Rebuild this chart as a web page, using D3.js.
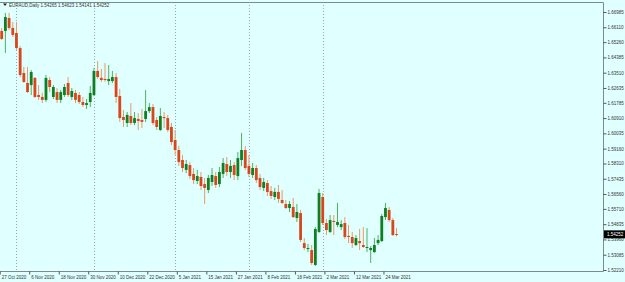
<!DOCTYPE html>
<html>
  <head>
    <meta charset="utf-8">
    <style>
      body {
        margin: 0;
        background-color: #e0ffff;
      }
      svg { display: block; }
      text { font-family: "Liberation Sans", Arial, sans-serif; }
    </style>
  </head>
  <body>
      <svg width="625" height="282"></svg>
      <script src="https://d3js.org/d3.v7.min.js"></script>
      <script>
      // EURAUD daily bars, 27 Oct 2020 - 29 Mar 2021
      var dates = [
        "2020-10-27","2020-10-28","2020-10-29","2020-10-30",
        "2020-11-02","2020-11-03","2020-11-04","2020-11-05","2020-11-06","2020-11-09","2020-11-10","2020-11-11",
        "2020-11-12","2020-11-13","2020-11-16","2020-11-17","2020-11-18","2020-11-19","2020-11-20","2020-11-23",
        "2020-11-24","2020-11-25","2020-11-26","2020-11-27","2020-11-30",
        "2020-12-01","2020-12-02","2020-12-03","2020-12-04","2020-12-07","2020-12-08","2020-12-09","2020-12-10",
        "2020-12-11","2020-12-14","2020-12-15","2020-12-16","2020-12-17","2020-12-18","2020-12-21","2020-12-22",
        "2020-12-23","2020-12-24","2020-12-28","2020-12-29","2020-12-30","2020-12-31",
        "2021-01-04","2021-01-05","2021-01-06","2021-01-07","2021-01-08","2021-01-11","2021-01-12","2021-01-13",
        "2021-01-14","2021-01-15","2021-01-18","2021-01-19","2021-01-20","2021-01-21","2021-01-22","2021-01-25",
        "2021-01-26","2021-01-27","2021-01-28","2021-01-29",
        "2021-02-01","2021-02-02","2021-02-03","2021-02-04","2021-02-05","2021-02-08","2021-02-09","2021-02-10",
        "2021-02-11","2021-02-12","2021-02-15","2021-02-16","2021-02-17","2021-02-18","2021-02-19","2021-02-22",
        "2021-02-23","2021-02-24","2021-02-25","2021-02-26",
        "2021-03-01","2021-03-02","2021-03-03","2021-03-04","2021-03-05","2021-03-08","2021-03-09","2021-03-10",
        "2021-03-11","2021-03-12","2021-03-15","2021-03-16","2021-03-17","2021-03-18","2021-03-19","2021-03-22",
        "2021-03-23","2021-03-24","2021-03-25","2021-03-26","2021-03-29"
      ];

      var opens = [
        1.6590,1.6590,1.6664,1.6607,1.6578,1.6492,1.6349,1.6292,1.6280,1.6321,
        1.6223,1.6212,1.6195,1.6309,1.6212,1.6240,1.6195,1.6223,1.6292,1.6212,
        1.6235,1.6223,1.6183,1.6166,1.6183,1.6223,1.6361,1.6321,1.6315,1.6303,
        1.6303,1.6326,1.6217,1.6097,1.6063,1.6103,1.6063,1.6086,1.6080,1.6086,
        1.6131,1.6154,1.6080,1.6023,1.6097,1.6091,1.6040,1.5965,1.5908,1.5851,
        1.5794,1.5822,1.5771,1.5731,1.5754,1.5713,1.5679,1.5725,1.5759,1.5713,
        1.5771,1.5828,1.5782,1.5822,1.5759,1.5851,1.5908,1.5817,1.5765,1.5805,
        1.5748,1.5691,1.5719,1.5673,1.5639,1.5668,1.5622,1.5599,1.5576,1.5582,
        1.5519,1.5547,1.5375,1.5341,1.5335,1.5250,1.5439,1.5639,1.5490,1.5439,
        1.5502,1.5479,1.5467,1.5490,1.5416,1.5410,1.5364,1.5387,1.5364,1.5347,
        1.5335,1.5324,1.5375,1.5387,1.5524,1.5565,1.5507,1.54265
      ];
      var highs = [
        1.6607,1.6693,1.6693,1.6641,1.6641,1.6504,1.6384,1.6384,1.6366,1.6326,
        1.6280,1.6235,1.6338,1.6326,1.6280,1.6263,1.6252,1.6286,1.6326,1.6263,
        1.6252,1.6240,1.6212,1.6200,1.6275,1.6378,1.6418,1.6372,1.6406,1.6395,
        1.6361,1.6349,1.6258,1.6137,1.6126,1.6177,1.6126,1.6120,1.6143,1.6252,
        1.6177,1.6172,1.6097,1.6149,1.6126,1.6109,1.6063,1.6023,1.5931,1.5880,
        1.5851,1.5839,1.5805,1.5794,1.5782,1.5748,1.5765,1.5805,1.5782,1.5811,
        1.5862,1.5868,1.5851,1.5839,1.5897,1.6006,1.5931,1.5880,1.5834,1.5822,
        1.5771,1.5748,1.5736,1.5702,1.5691,1.5708,1.5679,1.5622,1.5616,1.5633,
        1.5599,1.5565,1.5404,1.5370,1.5364,1.5467,1.5685,1.5662,1.5513,1.5536,
        1.5536,1.5605,1.5507,1.5524,1.5479,1.5439,1.5421,1.5456,1.5467,1.5461,
        1.5358,1.5404,1.5421,1.5542,1.5605,1.5582,1.5519,1.54623
      ];
      var lows = [
        1.6538,1.6464,1.6595,1.6555,1.6481,1.6326,1.6292,1.6235,1.6223,1.6206,
        1.6195,1.6177,1.6183,1.6240,1.6200,1.6177,1.6177,1.6212,1.6212,1.6195,
        1.6177,1.6172,1.6154,1.6143,1.6154,1.6217,1.6315,1.6298,1.6298,1.6280,
        1.6292,1.6177,1.6069,1.6040,1.6040,1.6051,1.6051,1.6023,1.6034,1.6069,
        1.6120,1.6051,1.6023,1.6017,1.6034,1.6011,1.5937,1.5880,1.5817,1.5782,
        1.5776,1.5742,1.5713,1.5713,1.5679,1.5599,1.5662,1.5702,1.5691,1.5696,
        1.5748,1.5759,1.5748,1.5736,1.5736,1.5817,1.5794,1.5754,1.5748,1.5719,
        1.5679,1.5673,1.5645,1.5628,1.5622,1.5605,1.5599,1.5570,1.5553,1.5519,
        1.5496,1.5381,1.5335,1.5324,1.5250,1.5244,1.5433,1.5479,1.5421,1.5433,
        1.5421,1.5467,1.5450,1.5398,1.5375,1.5347,1.5358,1.5335,1.5347,1.5324,
        1.5261,1.5318,1.5364,1.5381,1.5507,1.5496,1.5416,1.54141
      ];
      var closes = [
        1.6544,1.6670,1.6607,1.6567,1.6492,1.6338,1.6298,1.6240,1.6355,1.6212,
        1.6212,1.6195,1.6321,1.6269,1.6269,1.6195,1.6240,1.6269,1.6223,1.6246,
        1.6195,1.6183,1.6166,1.6177,1.6235,1.6361,1.6326,1.6309,1.6309,1.6315,
        1.6326,1.6212,1.6091,1.6080,1.6109,1.6063,1.6091,1.6074,1.6069,1.6131,
        1.6154,1.6063,1.6040,1.6103,1.6091,1.6023,1.5954,1.5908,1.5839,1.5805,
        1.5828,1.5759,1.5736,1.5759,1.5702,1.5691,1.5748,1.5765,1.5708,1.5782,
        1.5834,1.5782,1.5817,1.5765,1.5862,1.5908,1.5805,1.5771,1.5805,1.5736,
        1.5696,1.5725,1.5668,1.5645,1.5668,1.5628,1.5605,1.5576,1.5599,1.5524,
        1.5553,1.5393,1.5347,1.5347,1.5261,1.5456,1.5662,1.5490,1.5450,1.5507,
        1.5496,1.5496,1.5484,1.5410,1.5410,1.5375,1.5404,1.5375,1.5353,1.5353,
        1.5347,1.5364,1.5393,1.5530,1.5576,1.5507,1.5421,1.54252
      ];

      var priceTicks = [1.66985,1.66110,1.65260,1.64385,1.63510,1.62635,1.61785,1.60910,1.60035,
                        1.59160,1.58310,1.57435,1.56560,1.55710,1.54835,1.53960,1.53085,1.52210];
      var dateTicks = ["2020-10-27","2020-11-06","2020-11-18","2020-11-30","2020-12-10","2020-12-22","2021-01-05",
                       "2021-01-15","2021-01-27","2021-02-08","2021-02-18","2021-03-02","2021-03-12","2021-03-24"];
      var separators = ["2020-11-02","2020-12-01","2021-01-04","2021-02-01","2021-03-01"];
      var symbol = "EURAUD,Daily";

      var bars = dates.map(function(d, i) {
        return {date: d, o: opens[i], h: highs[i], l: lows[i], c: closes[i]};
      });
      var last = bars[bars.length - 1];

      var svg = d3.select("svg"),
          plot = {left: 0, top: 2, right: 603, bottom: 271},
          step = 3.69,
          x0 = 1.7 - step / 2,
          fs = 4.5;

      var x = d3.scaleBand().domain(dates).range([x0, x0 + step * dates.length]);
      var y = d3.scaleLinear().domain([1.52210, 1.66985]).range([270, 12]);
      var cx = function(d) { return x(d) + x.bandwidth() / 2; };
      var parse = d3.timeParse("%Y-%m-%d"),
          fmt = d3.timeFormat("%-d %b %Y");

      // month separators
      svg.selectAll(".sep")
          .data(separators)
        .enter().append("line")
          .attr("x1", function(d) { return Math.round(cx(d)) + 0.5; })
          .attr("x2", function(d) { return Math.round(cx(d)) + 0.5; })
          .attr("y1", plot.top)
          .attr("y2", plot.bottom)
          .attr("stroke", "#98a8b6")
          .attr("stroke-width", 1)
          .attr("stroke-dasharray", "1,2");

      // candles
      var candle = svg.selectAll(".bar")
          .data(bars)
        .enter().append("g");

      candle.append("line")
          .attr("x1", function(d) { return cx(d.date); })
          .attr("x2", function(d) { return cx(d.date); })
          .attr("y1", function(d) { return y(d.h); })
          .attr("y2", function(d) { return y(d.l); })
          .attr("stroke", function(d) { return d.c >= d.o ? "#52b05e" : "#e59a68"; })
          .attr("stroke-width", 1);

      candle.append("rect")
          .attr("x", function(d) { return cx(d.date) - 1.4; })
          .attr("width", 2.8)
          .attr("y", function(d) { return y(Math.max(d.o, d.c)); })
          .attr("height", function(d) { return Math.max(1, Math.abs(y(d.o) - y(d.c))); })
          .attr("fill", function(d) { return d.c >= d.o ? "#0f7f22" : "#d8461c"; });

      // frame
      svg.append("path")
          .attr("d", "M0," + (plot.top + 0.5) + "H" + (plot.right + 0.5) + "V" + (plot.bottom + 0.5) + "H0")
          .attr("fill", "none")
          .attr("stroke", "#7f8a8a")
          .attr("stroke-width", 1);

      // price axis
      var ya = svg.append("g")
          .attr("transform", "translate(" + (plot.right + 0.5) + ",0)")
          .call(d3.axisRight(y).tickValues(priceTicks).tickSize(3).tickPadding(1).tickFormat(d3.format(".5f")));
      ya.select(".domain").remove();
      ya.selectAll("line").attr("stroke", "#555");
      ya.selectAll("text").attr("font-size", fs).attr("fill", "#333");

      // date axis
      var xa = svg.append("g")
          .attr("transform", "translate(0," + (plot.bottom + 0.5) + ")")
          .call(d3.axisBottom(x).tickValues(dateTicks).tickSize(3).tickPadding(1)
            .tickFormat(function(d) { return fmt(parse(d)); }));
      xa.select(".domain").remove();
      xa.selectAll("line").attr("stroke", "#555").attr("transform", "translate(-1.5,0)");
      xa.selectAll("text").attr("font-size", fs).attr("fill", "#333")
          .attr("text-anchor", "start").attr("x", 0);

      // current price label
      svg.append("rect")
          .attr("x", plot.right + 1)
          .attr("y", y(last.c) - 4)
          .attr("width", 22)
          .attr("height", 8)
          .attr("fill", "#000");
      svg.append("text")
          .attr("x", plot.right + 4)
          .attr("y", y(last.c))
          .attr("dy", "0.35em")
          .attr("font-size", fs)
          .attr("fill", "#fff")
          .text(d3.format(".5f")(last.c));

      // header
      svg.append("path")
          .attr("d", "M3,3.5L7,3.5L5,6Z")
          .attr("fill", "#222");
      svg.append("text")
          .attr("x", 9)
          .attr("y", 7)
          .attr("font-size", fs)
          .attr("fill", "#333")
          .text(symbol + "  " + [last.o, last.h, last.l, last.c].map(d3.format(".5f")).join(" "));
      </script>
    </body>
</html>
